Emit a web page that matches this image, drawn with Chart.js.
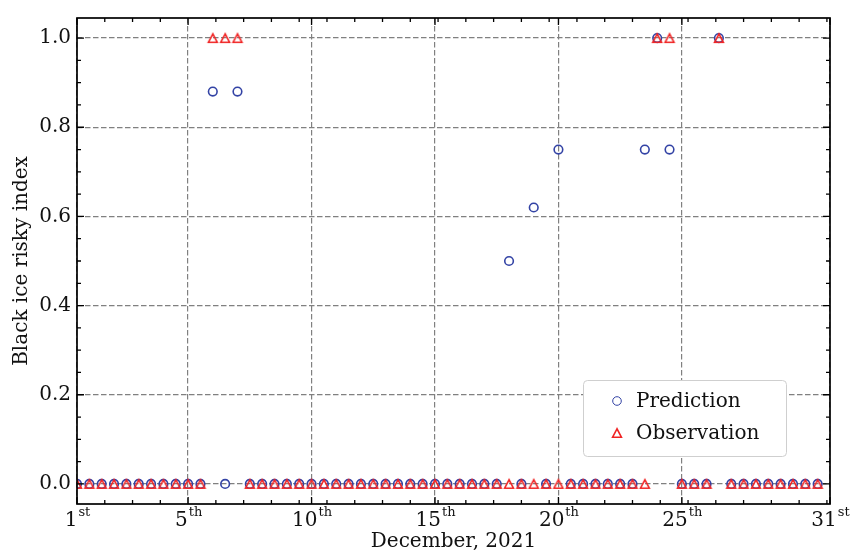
<!DOCTYPE html>
<html>
<head>
<meta charset="utf-8">
<script src="https://cdn.jsdelivr.net/npm/chart.js@4"></script>
<style>
  html, body { margin: 0; padding: 0; background: #fff; }
  #wrap { width: 851px; height: 557px; }
</style>
</head>
<body>
<div id="wrap"><canvas id="grafico"></canvas></div>
<script>
// dados: um ponto a cada 12 horas (indice 0 = dia 1)
const prediction = [
  0, 0, 0, 0, 0, 0, 0, 0, 0, 0,
  0, 0.88, 0, 0.88, 0, 0, 0, 0, 0, 0,
  0, 0, 0, 0, 0, 0, 0, 0, 0, 0,
  0, 0, 0, 0, 0, 0.5, 0, 0.62, 0, 0.75,
  0, 0, 0, 0, 0, 0, 0.75, 1.0, 0.75, 0,
  0, 0, 1.0, 0, 0, 0, 0, 0, 0, 0,
  0
];
const observation = [
  0, 0, 0, 0, 0, 0, 0, 0, 0, 0,
  0, 1, 1, 1, 0, 0, 0, 0, 0, 0,
  0, 0, 0, 0, 0, 0, 0, 0, 0, 0,
  0, 0, 0, 0, 0, 0, 0, 0, 0, 0,
  0, 0, 0, 0, 0, 0, 0, 1, 1, 0,
  0, 0, 1, 0, 0, 0, 0, 0, 0, 0,
  0
];

// eixo x
const xTickPos = [0, 9, 19, 29, 39, 49, 61];
const xTickNum = ["1", "5", "10", "15", "20", "25", "31"];
const xTickSuf = ["st", "th", "th", "th", "th", "th", "st"];
const yTicks = [0, 0.2, 0.4, 0.6, 0.8, 1.0];

const FONT = "'DejaVu Serif', serif";
const BLUE = "#3343a5";
const RED = "#f02424";

// marcador triangulo centrado pela caixa (como no matplotlib)
function criarTriangulo(cor) {
  const c = document.createElement("canvas");
  c.width = 14; c.height = 14;
  const g = c.getContext("2d");
  g.strokeStyle = cor;
  g.lineWidth = 1.6;
  g.lineJoin = "miter";
  g.beginPath();
  g.moveTo(7, 2.8);
  g.lineTo(2.6, 11.2);
  g.lineTo(11.4, 11.2);
  g.closePath();
  g.stroke();
  return c;
}
const triangulo = criarTriangulo(RED);

// Ticks para dentro + moldura + rotulos do eixo x
const molduraPlugin = {
  id: "moldura",
  afterDraw(chart) {
    const { ctx, chartArea: a, scales } = chart;
    const xs = scales.x, ys = scales.y;
    ctx.save();
    ctx.strokeStyle = "#000";
    ctx.lineWidth = 1.3;
    ctx.beginPath();
    // ticks x
    const minorX = [];
    for (let k = 0; k * 2.25 <= 61; k++) minorX.push(k * 2.25);
    minorX.forEach(v => {
      const px = xs.getPixelForValue(v);
      ctx.moveTo(px, a.bottom); ctx.lineTo(px, a.bottom - 4);
      ctx.moveTo(px, a.top); ctx.lineTo(px, a.top + 4);
    });
    xTickPos.forEach(v => {
      const px = xs.getPixelForValue(v);
      ctx.moveTo(px, a.bottom); ctx.lineTo(px, a.bottom - 7);
      ctx.moveTo(px, a.top); ctx.lineTo(px, a.top + 7);
    });
    // ticks y
    for (let k = 0; k <= 20; k++) {
      const py = ys.getPixelForValue(k * 0.05);
      const len = k % 4 === 0 ? 7 : 4;
      ctx.moveTo(a.left, py); ctx.lineTo(a.left + len, py);
      ctx.moveTo(a.right, py); ctx.lineTo(a.right - len, py);
    }
    ctx.stroke();

    ctx.lineWidth = 1.7;
    ctx.strokeRect(a.left, a.top, a.right - a.left, a.bottom - a.top);

    // rotulos x com sobrescrito
    ctx.fillStyle = "#111";
    ctx.textBaseline = "alphabetic";
    ctx.textAlign = "left";
    xTickPos.forEach((v, i) => {
      const px = xs.getPixelForValue(v);
      ctx.font = "20px " + FONT;
      const w1 = ctx.measureText(xTickNum[i]).width;
      ctx.font = "13px " + FONT;
      const w2 = ctx.measureText(xTickSuf[i]).width;
      const x0 = px - (w1 + w2) / 2;
      ctx.font = "20px " + FONT;
      ctx.fillText(xTickNum[i], x0, a.bottom + 22);
      ctx.font = "13px " + FONT;
      ctx.fillText(xTickSuf[i], x0 + w1 + 1, a.bottom + 12);
    });
    ctx.restore();
  }
};

// Legenda dentro do grafico
const legendaPlugin = {
  id: "legenda",
  afterDraw(chart) {
    const { ctx, chartArea: a } = chart;
    const bx = a.right - 247, by = a.bottom - 124, bw = 203, bh = 76;
    ctx.save();
    ctx.fillStyle = "#fff";
    ctx.strokeStyle = "#cfcfcf";
    ctx.lineWidth = 1;
    ctx.beginPath();
    ctx.roundRect(bx + 0.5, by + 0.5, bw, bh, 4);
    ctx.fill();
    ctx.stroke();

    const itens = [
      { label: "Prediction", style: "circle", color: BLUE, radius: 4.3 },
      { label: "Observation", style: triangulo, color: RED, radius: 4.6 }
    ];
    itens.forEach((it, i) => {
      const cy = by + 21 + i * 32;
      ctx.strokeStyle = it.color;
      ctx.fillStyle = "rgba(0,0,0,0)";
      Chart.helpers.drawPoint(ctx, { pointStyle: it.style, radius: it.radius, rotation: 0, borderWidth: 1.6 }, bx + 34, cy);
      ctx.fillStyle = "#111";
      ctx.font = "20px " + FONT;
      ctx.textBaseline = "middle";
      ctx.fillText(it.label, bx + 53, cy + 1);
    });
    ctx.restore();
  }
};

const ctx = document.getElementById("grafico").getContext("2d");
new Chart(ctx, {
  type: "scatter",
  data: {
    datasets: [
      {
        label: "Prediction",
        data: prediction.map((v, i) => ({ x: i, y: v })),
        pointStyle: "circle",
        pointRadius: 4.3,
        pointBorderWidth: 1.6,
        borderColor: BLUE,
        backgroundColor: "rgba(0,0,0,0)",
        order: 2
      },
      {
        label: "Observation",
        data: observation.map((v, i) => ({ x: i, y: v })),
        pointStyle: triangulo,
        pointRadius: 4.6,
        borderColor: RED,
        backgroundColor: "rgba(0,0,0,0)",
        order: 1
      }
    ]
  },
  options: {
    responsive: true,
    maintainAspectRatio: false,
    animation: false,
    layout: { padding: { top: 14, right: 21, left: 0, bottom: 0 } },
    plugins: {
      legend: { display: false },
      tooltip: { enabled: false }
    },
    scales: {
      x: {
        type: "linear",
        min: 0,
        max: 61,
        afterFit(scale) { scale.height = 53; },
        afterBuildTicks(scale) { scale.ticks = xTickPos.map(v => ({ value: v })); },
        ticks: { display: false },
        grid: { color: "#808080", lineWidth: 1.2, drawTicks: false },
        border: { display: false, dash: [5.5, 2.5] },
        title: {
          display: true,
          text: "December, 2021",
          color: "#111",
          font: { family: FONT, size: 20 },
          padding: { top: 0, bottom: 3 }
        }
      },
      y: {
        min: -0.045,
        max: 1.045,
        afterFit(scale) { scale.width = 77; },
        afterBuildTicks(scale) { scale.ticks = yTicks.map(v => ({ value: v })); },
        ticks: {
          color: "#111",
          padding: 6,
          font: { family: FONT, size: 20 },
          callback: v => v.toFixed(1)
        },
        grid: { color: "#808080", lineWidth: 1.2, drawTicks: false },
        border: { display: false, dash: [5.5, 2.5] },
        title: {
          display: true,
          text: "Black ice risky index",
          color: "#111",
          font: { family: FONT, size: 20 },
          padding: { top: 10, bottom: 0 }
        }
      }
    }
  },
  plugins: [molduraPlugin, legendaPlugin]
});
</script>
</body>
</html>
